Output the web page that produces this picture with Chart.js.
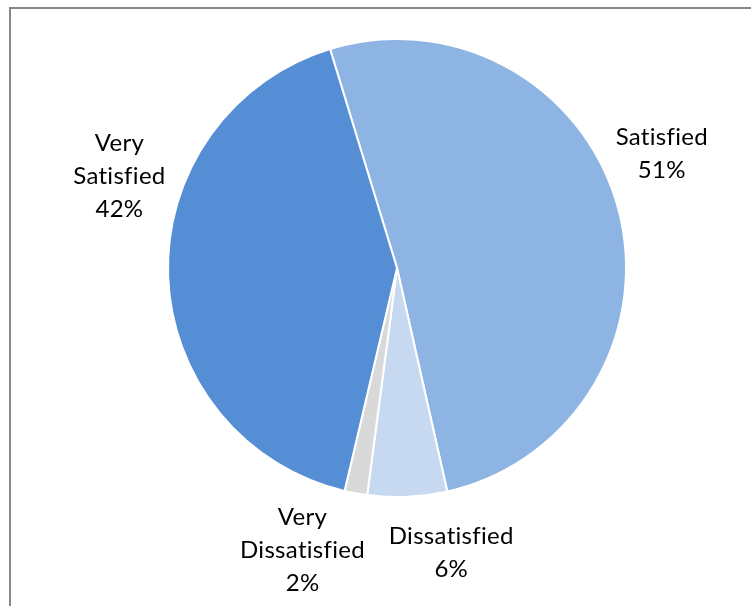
<!DOCTYPE html>
<html>
<head>
<meta charset="utf-8">
<script src="https://cdn.jsdelivr.net/npm/chart.js@4/dist/chart.umd.min.js"></script>
<style>
  html, body { margin: 0; padding: 0; background: #ffffff; }
  #wrap { position: relative; width: 751px; height: 606px; }
</style>
</head>
<body>
<div id="wrap"><canvas id="pie" width="751" height="606"></canvas></div>
<script>
// Survey responses, in the order the slices run clockwise from the top
const categories = ['Satisfied', 'Dissatisfied', 'Very Dissatisfied', 'Very Satisfied'];
const shares = [51.2, 5.6, 1.6, 41.6];
const sliceColors = ['#8EB4E3', '#C6D9F1', '#D9D9D9', '#558ED5'];

// Where each label block sits around the pie: angle (deg, clockwise from top)
// and distance as a multiple of the outer radius
const labelPlacement = [
  { angle: 66.6, dist: 1.26 },
  { angle: 169.2, dist: 1.265 },
  { angle: 198.5, dist: 1.30 },
  { angle: 288.2, dist: 1.276 }
];

const FONT = '24px Lato, "Open Sans", sans-serif';
const LINE_H = 33;

// Splits a category name into the lines shown on the chart
function labelLines(name, pct) {
  const lines = name.split(' ');
  lines.push(pct + '%');
  return lines;
}

const frame = {
  id: 'frame',
  beforeDraw(chart) {
    const ctx = chart.ctx;
    ctx.save();
    ctx.fillStyle = '#ffffff';
    ctx.fillRect(0, 0, chart.width, chart.height);
    ctx.strokeStyle = '#878787';
    ctx.lineWidth = 2;
    ctx.strokeRect(10, 8, chart.width + 20, chart.height + 20);
    ctx.restore();
  }
};

const sliceLabels = {
  id: 'sliceLabels',
  afterDatasetsDraw(chart) {
    const ctx = chart.ctx;
    const meta = chart.getDatasetMeta(0);
    const data = chart.data.datasets[0].data;
    const total = data.reduce((a, b) => a + b, 0);
    ctx.save();
    ctx.font = FONT;
    // a touch of tracking keeps "fi" as separate letters
    if ('letterSpacing' in ctx) ctx.letterSpacing = '0.3px';
    ctx.fillStyle = '#000000';
    ctx.textAlign = 'center';
    ctx.textBaseline = 'middle';
    meta.data.forEach((arc, i) => {
      const p = labelPlacement[i];
      const a = p.angle * Math.PI / 180;
      const r = arc.outerRadius * p.dist;
      const cx = arc.x + Math.sin(a) * r;
      const cy = arc.y - Math.cos(a) * r;
      const pct = Math.round(data[i] / total * 100);
      const lines = labelLines(chart.data.labels[i], pct);
      const top = cy - (lines.length - 1) * LINE_H / 2;
      lines.forEach((t, k) => ctx.fillText(t, cx, top + k * LINE_H));
    });
    ctx.restore();
  }
};

new Chart(document.getElementById('pie'), {
  type: 'pie',
  data: {
    labels: categories,
    datasets: [{
      data: shares,
      backgroundColor: sliceColors,
      borderColor: '#ffffff',
      borderWidth: 2
    }]
  },
  options: {
    responsive: false,
    animation: false,
    rotation: -17,
    layout: { padding: { left: 97, right: 54, top: 38, bottom: 108 } },
    plugins: {
      legend: { display: false },
      tooltip: { enabled: false }
    }
  },
  plugins: [frame, sliceLabels]
});
</script>
</body>
</html>
